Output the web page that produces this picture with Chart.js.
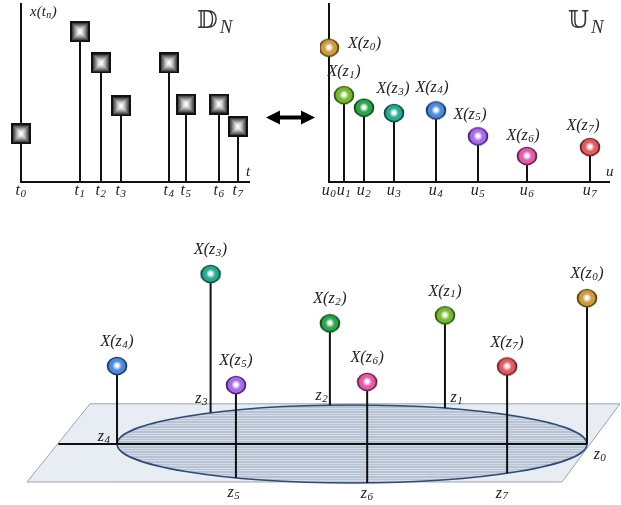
<!DOCTYPE html>
<html>
<head>
<meta charset="utf-8">
<script src="https://cdn.jsdelivr.net/npm/chart.js@4.4.1/dist/chart.umd.min.js"></script>
<style>
  html, body { margin: 0; padding: 0; background: #fff; }
  #wrap { position: relative; width: 621px; height: 505px; overflow: hidden; }
  .box { position: absolute; }
</style>
</head>
<body>
<div id="wrap">
  <div class="box" style="left:0;top:0;width:320px;height:205px"><canvas id="c1"></canvas></div>
  <div class="box" style="left:320px;top:0;width:301px;height:205px"><canvas id="c2"></canvas></div>
  <div class="box" style="left:0;top:205px;width:621px;height:300px"><canvas id="c3"></canvas></div>
</div>
<script>
// top-left: samples on the time axis
const tPos = [0, 2.95, 4.0, 5.0, 7.4, 8.25, 9.9, 10.85];
const xVals = [2.7, 8.4, 6.65, 4.25, 6.65, 4.35, 4.35, 3.1];

// top-right: samples on the u axis
const uPos = [0, 0.75, 1.75, 3.25, 5.35, 7.45, 9.9, 13.05];
const uVals = [7.5, 4.85, 4.15, 3.85, 4.0, 2.55, 1.45, 1.95];
const uLabelled = [true, true, false, true, true, true, true, true];

// bottom: points z_n on the ellipse (angle in degrees) and their heights
const zAngle = [0, 66.7, 95.4, 127, 180, 240.4, 273.7, 311.3];
const zHeight = [3.74, 2.38, 2.1, 3.56, 2.0, 2.38, 2.59, 2.74];

const ballColors = ['#cc9c40', '#76ba32', '#2ea44c', '#26aa92', '#4e8ada', '#a86cea', '#e25caa', '#e25c62'];
const ballDark = ['#5e420e', '#2c5a0e', '#0e4a1e', '#0c4a40', '#183a72', '#48207e', '#6e1e48', '#6e1e22'];

const SERIF = "'Liberation Serif', 'DejaVu Serif', serif";
const INK = '#222';

function makeBall(color, dark) {
  const c = document.createElement('canvas');
  c.width = 22; c.height = 20;
  const g = c.getContext('2d');
  const grad = g.createRadialGradient(11, 9.5, 0, 11, 10, 9.5);
  grad.addColorStop(0, '#ffffff');
  grad.addColorStop(0.15, '#ffffff');
  grad.addColorStop(0.5, color);
  grad.addColorStop(0.78, color);
  grad.addColorStop(1, dark);
  g.beginPath();
  g.ellipse(11, 10, 9.6, 8.6, 0, 0, Math.PI * 2);
  g.fillStyle = grad;
  g.fill();
  g.lineWidth = 1.4;
  g.strokeStyle = dark;
  g.stroke();
  return c;
}

function makeSquare() {
  const c = document.createElement('canvas');
  c.width = 20; c.height = 21;
  const g = c.getContext('2d');
  g.fillStyle = '#111';
  g.fillRect(0, 0, 20, 21);
  const shades = [70, 100, 130, 160, 190, 215, 235, 250];
  shades.forEach((v, k) => {
    const i = k + 2;
    g.fillStyle = `rgb(${v},${v},${v})`;
    g.fillRect(i, i, 20 - 2 * i, 21 - 2 * i);
  });
  return c;
}

const balls = ballColors.map((c, i) => makeBall(c, ballDark[i]));
const square = makeSquare();

// text with a subscript, e.g. X(z_0)
function subText(ctx, base, sub, after, x, y, size, align) {
  const big = `italic ${size}px ${SERIF}`;
  const small = `italic ${Math.round(size * 0.68)}px ${SERIF}`;
  ctx.font = big;
  const w1 = ctx.measureText(base).width;
  const w3 = after ? ctx.measureText(after).width : 0;
  ctx.font = small;
  const w2 = ctx.measureText(sub).width;
  const total = w1 + w2 + w3 + 1;
  let x0 = x;
  if (align === 'center') x0 = x - total / 2;
  if (align === 'right') x0 = x - total;
  ctx.textAlign = 'left';
  ctx.textBaseline = 'middle';
  ctx.fillStyle = INK;
  ctx.font = big;
  ctx.fillText(base, x0, y);
  ctx.font = small;
  ctx.fillText(sub, x0 + w1 + 0.5, y + size * 0.2);
  if (after) {
    ctx.font = big;
    ctx.fillText(after, x0 + w1 + w2 + 1, y);
  }
}

function stemData(xs, ys, bases) {
  const out = [];
  xs.forEach((x, i) => {
    out.push({ x: x, y: bases ? bases[i] : 0 });
    out.push({ x: x, y: (bases ? bases[i] : 0) + ys[i] });
    out.push({ x: x, y: null });
  });
  return out;
}

function baseOptions(padding, xr, yr) {
  return {
    responsive: true,
    maintainAspectRatio: false,
    animation: false,
    devicePixelRatio: 1,
    events: [],
    layout: { padding: padding, autoPadding: false },
    plugins: { legend: { display: false }, tooltip: { enabled: false } },
    scales: {
      x: { type: 'linear', display: false, min: xr[0], max: xr[1] },
      y: { type: 'linear', display: false, min: yr[0], max: yr[1] }
    }
  };
}

function axesPlugin(xLabel, ticks, tickName, title, titleOff) {
  return {
    id: 'axes',
    beforeDatasetsDraw(chart) {
      const { ctx, chartArea: a, scales: { x, y } } = chart;
      ctx.save();
      ctx.strokeStyle = '#111';
      ctx.lineWidth = 2;
      ctx.beginPath();
      ctx.moveTo(x.getPixelForValue(0), a.top);
      ctx.lineTo(x.getPixelForValue(0), y.getPixelForValue(0));
      ctx.lineTo(a.right, y.getPixelForValue(0));
      ctx.stroke();
      ctx.restore();
    },
    afterDatasetsDraw(chart) {
      const { ctx, chartArea: a, scales: { x, y } } = chart;
      ctx.save();
      const by = y.getPixelForValue(0);
      ticks.forEach((t, i) => subText(ctx, tickName, String(i), '', x.getPixelForValue(t), by + 9, 16, 'center'));
      ctx.font = `italic 15px ${SERIF}`;
      ctx.fillStyle = INK;
      ctx.textAlign = 'left';
      ctx.textBaseline = 'middle';
      ctx.fillText(xLabel, a.right - 4, by - 10);
      // panel title, double-struck letter with subscript N
      ctx.font = `24px 'DejaVu Serif', 'DejaVu Sans', serif`;
      ctx.textBaseline = 'alphabetic';
      ctx.fillStyle = '#333';
      ctx.fillText(title, a.right + titleOff, 28);
      const w = ctx.measureText(title).width;
      ctx.font = `italic 19px ${SERIF}`;
      ctx.fillText('N', a.right + titleOff + w + 2, 33);
      ctx.restore();
    }
  };
}

// top-left chart
new Chart(document.getElementById('c1'), {
  type: 'scatter',
  data: {
    datasets: [
      { data: tPos.map((t, i) => ({ x: t, y: xVals[i] })), pointStyle: square, pointRadius: 10, clip: false },
      { data: stemData(tPos, xVals), showLine: true, spanGaps: false, pointRadius: 0,
        borderColor: '#111', borderWidth: 2, clip: false }
    ]
  },
  options: baseOptions({ left: 21, top: 3, right: 70, bottom: 23 }, [0, 11.45], [0, 10]),
  plugins: [axesPlugin('t', tPos, 't', '\u{1D53B}', -53), {
    id: 'extra',
    afterDraw(chart) {
      const { ctx, chartArea: a, scales: { x, y } } = chart;
      ctx.save();
      subText(ctx, 'x(t', 'n', ')', x.getPixelForValue(0) + 9, a.top + 9, 15, 'left');
      // double arrow between the panels
      const x0 = a.right + 16, x1 = a.right + 65, yy = y.getPixelForValue(3.6);
      ctx.fillStyle = '#000';
      ctx.beginPath();
      ctx.moveTo(x0, yy);
      ctx.lineTo(x0 + 14, yy - 7);
      ctx.lineTo(x0 + 14, yy - 2);
      ctx.lineTo(x1 - 14, yy - 2);
      ctx.lineTo(x1 - 14, yy - 7);
      ctx.lineTo(x1, yy);
      ctx.lineTo(x1 - 14, yy + 7);
      ctx.lineTo(x1 - 14, yy + 2);
      ctx.lineTo(x0 + 14, yy + 2);
      ctx.lineTo(x0 + 14, yy + 7);
      ctx.closePath();
      ctx.fill();
      ctx.restore();
    }
  }]
});

// top-right chart
const uLabelOff = [[19, -4, 'left'], [0, -23], null, [-1, -24], [-4, -23], [-8, -22], [-4, -20], [-7, -21]];
new Chart(document.getElementById('c2'), {
  type: 'scatter',
  data: {
    datasets: [
      { data: uPos.map((u, i) => ({ x: u, y: uVals[i] })), pointStyle: c => balls[c.dataIndex], pointRadius: 10, clip: false },
      { data: stemData(uPos, uVals), showLine: true, spanGaps: false, pointRadius: 0,
        borderColor: '#111', borderWidth: 2, clip: false }
    ]
  },
  options: baseOptions({ left: 9, top: 3, right: 11, bottom: 23 }, [0, 14.05], [0, 10]),
  plugins: [axesPlugin('u', uPos, 'u', '\u{1D54C}', -42), {
    id: 'labels',
    afterDraw(chart) {
      const { ctx, scales: { x, y } } = chart;
      ctx.save();
      uPos.forEach((u, i) => {
        if (!uLabelled[i]) return;
        const o = uLabelOff[i];
        subText(ctx, 'X(z', String(i), ')', x.getPixelForValue(u) + o[0], y.getPixelForValue(uVals[i]) + o[1], 16, o[2] || 'center');
      });
      ctx.restore();
    }
  }]
});

// bottom chart: plane, ellipse and the values standing on it
const rad = d => d * Math.PI / 180;
const zX = zAngle.map(d => Math.cos(rad(d)));
const zY = zAngle.map(d => Math.sin(rad(d)));
const planeTop = [-1.115, 1.14];
const planeBottom = [-1.383, 0.894];
const planeDepth = [1.03, -0.974];
const axisSpan = [-1.25, 1.0];
const zLabelOff = [[13, 11], [12, -10], [-8, -9], [-9, -14], [-13, -7], [-2, 15], [0, 11], [-5, 20]];

new Chart(document.getElementById('c3'), {
  type: 'scatter',
  data: {
    datasets: [
      { data: zX.map((v, i) => ({ x: v, y: zY[i] + zHeight[i] })), pointStyle: c => balls[c.dataIndex], pointRadius: 10, clip: false },
      { data: stemData(zX, zHeight, zY), showLine: true, spanGaps: false, pointRadius: 0,
        borderColor: '#111', borderWidth: 2, clip: false }
    ]
  },
  options: baseOptions({ left: 0, top: 0, right: 0, bottom: 0 }, [-1.498, 1.1447], [-1.564, 6.128]),
  plugins: [{
    id: 'plane',
    beforeDatasetsDraw(chart) {
      const { ctx, scales: { x, y } } = chart;
      const px = v => x.getPixelForValue(v), py = v => y.getPixelForValue(v);
      ctx.save();
      ctx.beginPath();
      ctx.moveTo(px(planeTop[0]), py(planeDepth[0]));
      ctx.lineTo(px(planeTop[1]), py(planeDepth[0]));
      ctx.lineTo(px(planeBottom[1]), py(planeDepth[1]));
      ctx.lineTo(px(planeBottom[0]), py(planeDepth[1]));
      ctx.closePath();
      ctx.fillStyle = '#e7edf3';
      ctx.fill();
      ctx.strokeStyle = '#9aa4ae';
      ctx.lineWidth = 1;
      ctx.stroke();

      const cx = px(0), cy = py(0), rx = px(1) - px(0), ry = py(0) - py(1);
      ctx.beginPath();
      ctx.ellipse(cx, cy, rx, ry, 0, 0, Math.PI * 2);
      ctx.fillStyle = '#b7c3d3';
      ctx.fill();
      ctx.save();
      ctx.clip();
      ctx.strokeStyle = 'rgba(235,240,246,0.55)';
      ctx.lineWidth = 1;
      for (let yy = cy - ry; yy < cy + ry; yy += 2.5) {
        ctx.beginPath();
        ctx.moveTo(cx - rx, Math.round(yy) + 0.5);
        ctx.lineTo(cx + rx, Math.round(yy) + 0.5);
        ctx.stroke();
      }
      ctx.restore();
      ctx.beginPath();
      ctx.ellipse(cx, cy, rx, ry, 0, 0, Math.PI * 2);
      ctx.strokeStyle = '#2f4b78';
      ctx.lineWidth = 1.6;
      ctx.stroke();

      ctx.beginPath();
      ctx.moveTo(px(axisSpan[0]), cy);
      ctx.lineTo(px(axisSpan[1]), cy);
      ctx.strokeStyle = '#111';
      ctx.lineWidth = 2;
      ctx.stroke();
      ctx.restore();
    },
    afterDatasetsDraw(chart) {
      const { ctx, scales: { x, y } } = chart;
      ctx.save();
      zX.forEach((v, i) => {
        const bx = x.getPixelForValue(v);
        const o = zLabelOff[i];
        subText(ctx, 'z', String(i), '', bx + o[0], y.getPixelForValue(zY[i]) + o[1], 16, 'center');
        subText(ctx, 'X(z', String(i), ')', bx, y.getPixelForValue(zY[i] + zHeight[i]) - 24, 16, 'center');
      });
      ctx.restore();
    }
  }]
});
</script>
</body>
</html>
